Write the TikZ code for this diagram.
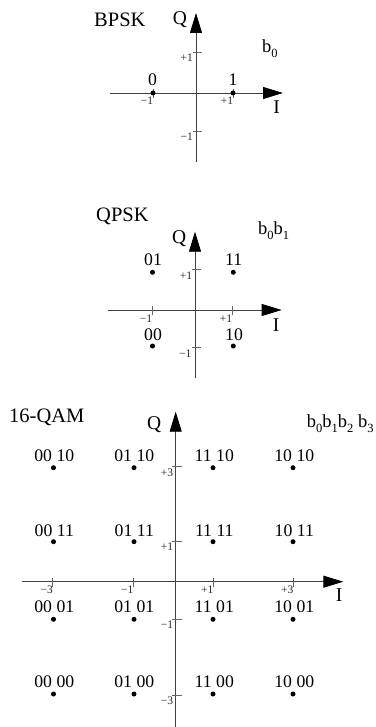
\documentclass[tikz,border=0pt]{standalone}
\usepackage{fontspec}
\setmainfont{Liberation Serif}
\usetikzlibrary{arrows.meta}
\newcommand{\bsub}[1]{\raisebox{-5pt}{\fontsize{12.5}{12}\selectfont #1}}
\tikzset{
 axis/.style={draw=black!75, line width=0.9pt, -{Triangle[length=20pt,width=12pt,color=black,fill=black]}},
 tickmark/.style={draw=black!60, line width=0.6pt},
 ticklabel/.style={inner sep=0pt, anchor=north east, font=\fontsize{11.5}{12}\selectfont, text=black!85},
 pt/.style={circle, fill=black, inner sep=0pt, minimum size=5pt},
 ptlabel/.style={inner sep=0pt, anchor=base, font=\fontsize{17.7}{20}\selectfont},
 title/.style={inner sep=0pt, anchor=base west, font=\fontsize{20.5}{22}\selectfont},
 axlabel/.style={inner sep=0pt, anchor=base, font=\fontsize{19.5}{22}\selectfont},
 bits/.style={inner sep=0pt, anchor=base west, font=\fontsize{18.5}{20}\selectfont},
}
\begin{document}
\begin{tikzpicture}[x=1pt,y=-1pt]
\useasboundingbox (0,0) rectangle (375,727);
% ================= BPSK =================
\coordinate (b-qbot) at (196,162);
\coordinate (b-qtop) at (196,13);
\coordinate (b-ileft) at (110,93);
\coordinate (b-iright) at (283,93);
\draw[axis] (b-qbot) -- (b-qtop);
\draw[axis] (b-ileft) -- (b-iright);
\draw[tickmark] (193,52.3) -- (202,52.3);
\draw[tickmark] (193,131) -- (202,131);
\draw[tickmark] (153,89) -- (153,98);
\draw[tickmark] (233,89) -- (233,98);
\node[ticklabel] (b-t1) at (193,54) {+1};
\node[ticklabel] (b-t2) at (193,133) {−1};
\node[ticklabel] (b-t3) at (153.3,97) {−1};
\node[ticklabel] (b-t4) at (233.3,97) {+1};
\node[pt] (b-p0) at (153,93) {};
\node[pt] (b-p1) at (233,93) {};
\node[ptlabel] (b-l0) at (152.5,86) {0};
\node[ptlabel] (b-l1) at (233,86) {1};
\node[title] (b-title) at (94,27) {BPSK};
\node[axlabel] (b-q) at (180,24.8) {Q};
\node[axlabel] (b-i) at (276.5,113.3) {I};
\node[bits] (b-bits) at (262,53) {b\bsub{0}};
% ================= QPSK =================
\coordinate (q-qbot) at (195,378);
\coordinate (q-qtop) at (195,231.7);
\coordinate (q-ileft) at (108.3,310);
\coordinate (q-iright) at (281.7,310);
\draw[axis] (q-qbot) -- (q-qtop);
\draw[axis] (q-ileft) -- (q-iright);
\draw[tickmark] (192,269) -- (201,269);
\draw[tickmark] (192,347.5) -- (201,347.5);
\draw[tickmark] (152.3,306) -- (152.3,315);
\draw[tickmark] (232.3,306) -- (232.3,315);
\node[ticklabel] (q-t1) at (192.3,271.3) {+1};
\node[ticklabel] (q-t2) at (191.5,349.3) {−1};
\node[ticklabel] (q-t3) at (152.3,314.5) {−1};
\node[ticklabel] (q-t4) at (232.3,314.3) {+1};
\node[pt] (q-p01) at (152.5,272.3) {};
\node[pt] (q-p11) at (233.3,272.3) {};
\node[pt] (q-p00) at (152.5,346) {};
\node[pt] (q-p10) at (233.3,346) {};
\node[ptlabel] (q-l01) at (153,265) {01};
\node[ptlabel] (q-l11) at (233.7,265) {11};
\node[ptlabel] (q-l00) at (153,340) {00};
\node[ptlabel] (q-l10) at (234,340) {10};
\node[title] (q-title) at (96,221.5) {QPSK};
\node[axlabel] (q-q) at (179.2,243.5) {Q};
\node[axlabel] (q-i) at (276,331.7) {I};
\node[bits] (q-bits) at (258,234) {b\bsub{0}b\bsub{1}};
% ================= 16-QAM =================
\coordinate (m-qbot) at (175.7,727);
\coordinate (m-qtop) at (175.7,411.7);
\coordinate (m-ileft) at (21.7,581.7);
\coordinate (m-iright) at (343.3,581.7);
\draw[axis] (m-qbot) -- (m-qtop);
\draw[axis] (m-ileft) -- (m-iright);
\foreach \ty/\tl [count=\k] in {466.7/+3, 541/+1, 619/−1, 695/−3}{
  \draw[tickmark] (171.7,\ty) -- (181.7,\ty);
  \node[ticklabel] (m-qt\k) at (173.3,\ty+1.8) {\tl};
}
\foreach \tx/\tl [count=\k] in {52.7/−3, 133.3/−1, 213.3/+1, 293.3/+3}{
  \draw[tickmark] (\tx,578) -- (\tx,586.5);
  \node[ticklabel] (m-it\k) at (\tx+0.3,585.7) {\tl};
}
% row 1
\node[pt] (m-p11) at (53.5,467.7) {};
\node[pt] (m-p12) at (134,467.7) {};
\node[pt] (m-p13) at (213,467.7) {};
\node[pt] (m-p14) at (293,467.7) {};
\node[ptlabel] (m-l11) at (54.3,461.5) {00 10};
\node[ptlabel] (m-l12) at (134.3,461.5) {01 10};
\node[ptlabel] (m-l13) at (214.3,461.5) {11 10};
\node[ptlabel] (m-l14) at (294.3,461.5) {10 10};
% row 2
\node[pt] (m-p21) at (53.5,541.7) {};
\node[pt] (m-p22) at (134,541.7) {};
\node[pt] (m-p23) at (213,541.7) {};
\node[pt] (m-p24) at (293,541.7) {};
\node[ptlabel] (m-l21) at (54.3,536.3) {00 11};
\node[ptlabel] (m-l22) at (134.3,536.3) {01 11};
\node[ptlabel] (m-l23) at (214.3,536.3) {11 11};
\node[ptlabel] (m-l24) at (294.3,536.3) {10 11};
% row 3
\node[pt] (m-p31) at (53.5,619.3) {};
\node[pt] (m-p32) at (134,619.3) {};
\node[pt] (m-p33) at (213,619.3) {};
\node[pt] (m-p34) at (293,619.3) {};
\node[ptlabel] (m-l31) at (54.3,612.7) {00 01};
\node[ptlabel] (m-l32) at (134.3,612.7) {01 01};
\node[ptlabel] (m-l33) at (214.3,612.7) {11 01};
\node[ptlabel] (m-l34) at (294.3,612.7) {10 01};
% row 4
\node[pt] (m-p41) at (53.5,694) {};
\node[pt] (m-p42) at (134,694) {};
\node[pt] (m-p43) at (213,694) {};
\node[pt] (m-p44) at (293,694) {};
\node[ptlabel] (m-l41) at (54.3,687.7) {00 00};
\node[ptlabel] (m-l42) at (134.3,687.7) {01 00};
\node[ptlabel] (m-l43) at (214.3,687.7) {11 00};
\node[ptlabel] (m-l44) at (294.3,687.7) {10 00};
\node[title] (m-title) at (9,422.3) {16-QAM};
\node[axlabel] (m-q) at (154.2,429.6) {Q};
\node[axlabel] (m-i) at (339,601.7) {I};
\node[bits] (m-bits) at (306.7,427.7) {b\bsub{0}b\bsub{1}b\bsub{2} b\bsub{3}};
\end{tikzpicture}
\end{document}
